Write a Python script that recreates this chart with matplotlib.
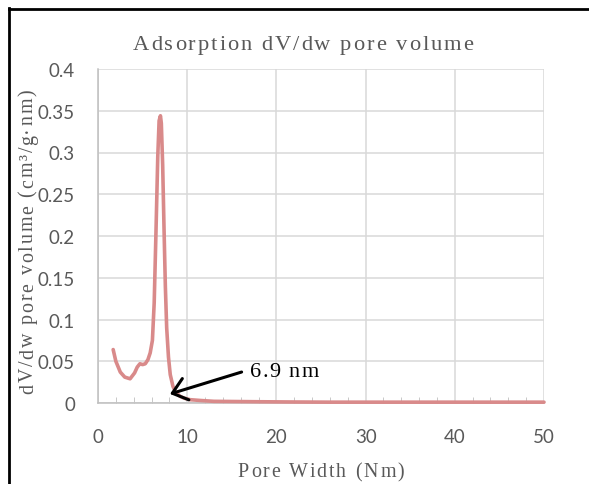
import matplotlib
matplotlib.use("Agg")
import matplotlib.pyplot as plt
from matplotlib.lines import Line2D
from matplotlib.font_manager import FontProperties

pore_width = [1.7, 2.0, 2.5, 3.0, 3.6, 4.1, 4.4, 4.7, 5.0, 5.3, 5.6, 5.85, 6.1, 6.3, 6.5, 6.7, 6.85, 7.0, 7.1, 7.25, 7.4, 7.55, 7.7, 7.9, 8.1, 8.4, 8.7, 9.2, 9.6, 10.3, 11.5, 13, 15, 18, 22, 26, 30, 35, 40, 45, 50]
dv_dw = [0.064, 0.050, 0.037, 0.031, 0.029, 0.036, 0.043, 0.047, 0.046, 0.047, 0.052, 0.060, 0.075, 0.120, 0.205, 0.295, 0.338, 0.344, 0.335, 0.285, 0.210, 0.140, 0.090, 0.055, 0.034, 0.020, 0.013, 0.008, 0.006, 0.004, 0.003, 0.002, 0.0018, 0.0015, 0.0012, 0.001, 0.001, 0.001, 0.001, 0.001, 0.001]

x_ticks = [0, 10, 20, 30, 40, 50]
y_ticks = [0, 0.05, 0.1, 0.15, 0.2, 0.25, 0.3, 0.35, 0.4]
y_tick_labels = ["0", "0.05", "0.1", "0.15", "0.2", "0.25", "0.3", "0.35", "0.4"]

title = "Adsorption dV/dw pore volume"
x_label = "Pore Width (Nm)"
y_label = "dV/dw pore volume (cm\u00b3/g\u00b7nm)"
peak_label = "6.9 nm"
peak_tip = (8.07, 0.0108)
peak_tail = (16.1, 0.0371)

W, H = 589, 485
fig = plt.figure(figsize=(W / 100, H / 100), dpi=100)
ax = fig.add_axes([98 / W, 1 - 404 / H, (544 - 98) / W, (404 - 70) / H])

ax.plot(pore_width, dv_dw, color="#d98a8a", lw=2.6, solid_capstyle="round", zorder=3, clip_on=False)

ax.set_xlim(0, 50)
ax.set_ylim(0, 0.4)
ax.set_xticks(x_ticks)
ax.set_yticks(y_ticks)
ax.set_yticklabels(y_tick_labels)
ax.set_xticks(range(0, 51, 2), minor=True)

ax.grid(True, which="major", color="#d9d9d9", lw=1.1)
ax.set_axisbelow(True)
for s in ["top", "right"]:
    ax.spines[s].set_visible(False)
ax.spines["left"].set_color("#bfbfbf")
ax.spines["bottom"].set_color("#bfbfbf")
ax.spines["left"].set_linewidth(1.1)
ax.spines["bottom"].set_linewidth(1.1)
ax.tick_params(axis="both", which="major", length=0, labelsize=13.5, labelcolor="#595959")
ax.tick_params(axis="y", which="major", pad=16.5)
ax.tick_params(axis="x", which="major", pad=18)
ax.tick_params(axis="x", which="minor", direction="in", length=4, color="#bfbfbf")
ax.tick_params(axis="y", which="minor", length=0)
for lab in ax.get_xticklabels() + ax.get_yticklabels():
    lab.set_family("Lato")

renderer = fig.canvas.get_renderer()
SERIF = "Liberation Serif"


def tracked_text(s, x, y, size, track, color, ha="center", rotation=0):
    """Draw text with extra letter spacing; x, y are pixel coords (from top-left) of the baseline."""
    prop = FontProperties(family=SERIF, size=size)

    def w(t):
        return renderer.get_text_width_height_descent(t, prop, ismath=False)[0]

    wH = w("H")
    offs = [0.0] + [w(s[:i] + "H") - wH for i in range(1, len(s))]
    total = w(s) + track * (len(s) - 1)
    start = -total / 2 if ha == "center" else 0.0
    for i, ch in enumerate(s):
        if ch == " ":
            continue
        d = start + offs[i] + i * track
        if rotation == 0:
            px, py = x + d, y
        else:
            px, py = x, y - d
        fig.text(px / W, 1 - py / H, ch, ha="left", va="baseline", rotation=rotation,
                 rotation_mode="anchor", fontproperties=prop, color=color)


tracked_text(title, 303, 50, 16.2, 2.0, "#595959")
tracked_text(x_label, 321, 477, 14.4, 2.0, "#595959")
tracked_text(y_label, 33, 241.5, 14.4, 1.8, "#595959", rotation=90)
tracked_text(peak_label, 250, 377, 16.0, 1.3, "black", ha="left")

ax.annotate("", xy=peak_tip, xytext=peak_tail, textcoords="data",
            arrowprops=dict(arrowstyle="->, head_length=0.4, head_width=0.32", color="black", lw=2.2,
                            mutation_scale=25, shrinkA=0, shrinkB=0))

# outer black frame (left and top)
fig.add_artist(Line2D([8.5 / W, 8.5 / W], [0, 1 - 9 / H], color="black", lw=2, transform=fig.transFigure))
fig.add_artist(Line2D([8.5 / W, 1], [1 - 9.5 / H, 1 - 9.5 / H], color="black", lw=2, transform=fig.transFigure))

fig.savefig("out.png", dpi=100)
